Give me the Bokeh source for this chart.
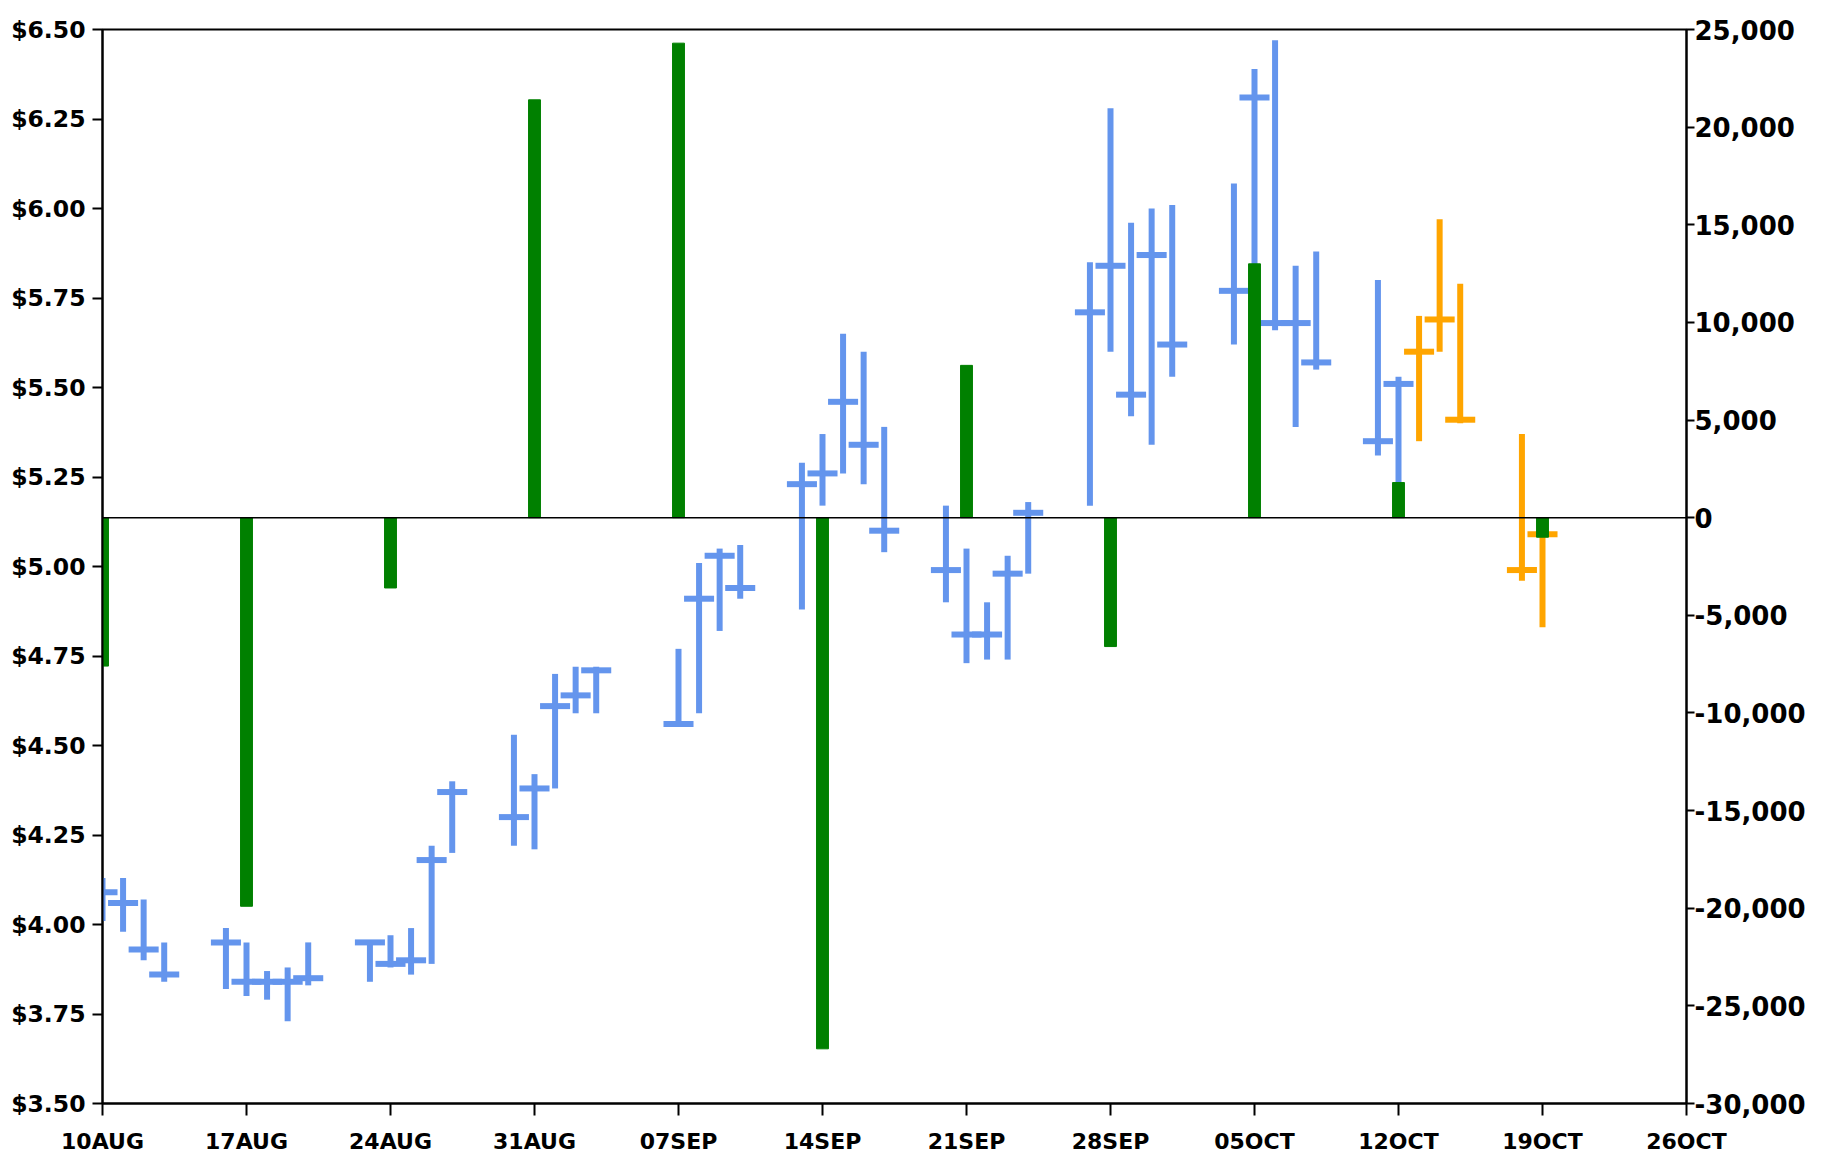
import pandas as pd
from bokeh.plotting import figure
from bokeh.models import (Range1d, LinearAxis, FixedTicker, PrintfTickFormatter,
                          NumeralTickFormatter, Span, ColumnDataSource)
from bokeh.embed import file_html
from bokeh.resources import INLINE

# ---------------- data ----------------
start_date = "2020-08-10"
tick_dates = ["2020-08-10", "2020-08-17", "2020-08-24", "2020-08-31", "2020-09-07",
              "2020-09-14", "2020-09-21", "2020-09-28", "2020-10-05", "2020-10-12",
              "2020-10-19", "2020-10-26"]
tick_labels = ["10AUG", "17AUG", "24AUG", "31AUG", "07SEP", "14SEP", "21SEP",
               "28SEP", "05OCT", "12OCT", "19OCT", "26OCT"]

bar_dates = ["2020-08-10", "2020-08-11", "2020-08-12", "2020-08-13",
             "2020-08-16", "2020-08-17", "2020-08-18", "2020-08-19", "2020-08-20",
             "2020-08-23", "2020-08-24", "2020-08-25", "2020-08-26", "2020-08-27",
             "2020-08-30", "2020-08-31", "2020-09-01", "2020-09-02", "2020-09-03",
             "2020-09-07", "2020-09-08", "2020-09-09", "2020-09-10",
             "2020-09-13", "2020-09-14", "2020-09-15", "2020-09-16", "2020-09-17",
             "2020-09-20", "2020-09-21", "2020-09-22", "2020-09-23", "2020-09-24",
             "2020-09-27", "2020-09-28", "2020-09-29", "2020-09-30", "2020-10-01",
             "2020-10-04", "2020-10-05", "2020-10-06", "2020-10-07", "2020-10-08",
             "2020-10-11", "2020-10-12",
             "2020-10-13", "2020-10-14", "2020-10-15", "2020-10-18", "2020-10-19"]
high = [4.13, 4.13, 4.07, 3.95,
        3.99, 3.95, 3.87, 3.88, 3.95,
        3.95, 3.97, 3.99, 4.22, 4.40,
        4.53, 4.42, 4.70, 4.72, 4.72,
        4.77, 5.01, 5.05, 5.06,
        5.29, 5.37, 5.65, 5.60, 5.39,
        5.17, 5.05, 4.90, 5.03, 5.18,
        5.85, 6.28, 5.96, 6.00, 6.01,
        6.07, 6.39, 6.47, 5.84, 5.88,
        5.80, 5.53,
        5.70, 5.97, 5.79, 5.37, 5.12]
low = [4.01, 3.98, 3.90, 3.84,
       3.82, 3.80, 3.79, 3.73, 3.83,
       3.84, 3.88, 3.86, 3.89, 4.20,
       4.22, 4.21, 4.38, 4.59, 4.59,
       4.56, 4.59, 4.82, 4.91,
       4.88, 5.17, 5.26, 5.23, 5.04,
       4.90, 4.73, 4.74, 4.74, 4.98,
       5.17, 5.60, 5.42, 5.34, 5.53,
       5.62, 5.70, 5.66, 5.39, 5.55,
       5.31, 5.22,
       5.35, 5.60, 5.40, 4.96, 4.83]
close = [4.09, 4.06, 3.93, 3.86,
         3.95, 3.84, 3.84, 3.84, 3.85,
         3.95, 3.89, 3.90, 4.18, 4.37,
         4.30, 4.38, 4.61, 4.64, 4.71,
         4.56, 4.91, 5.03, 4.94,
         5.23, 5.26, 5.46, 5.34, 5.10,
         4.99, 4.81, 4.81, 4.98, 5.15,
         5.71, 5.84, 5.48, 5.87, 5.62,
         5.77, 6.31, 5.68, 5.68, 5.57,
         5.35, 5.51,
         5.60, 5.69, 5.41, 4.99, 5.09]
kind = ["actual"] * 45 + ["forecast"] * 5

volume_dates = tick_dates[:11]
net_volume = [-7600, -19900, -3600, 21400, 24300, -27200, 7800, -6600, 13000, 1800, -1000]

price_ticks = [3.50, 3.75, 4.00, 4.25, 4.50, 4.75, 5.00, 5.25, 5.50, 5.75, 6.00, 6.25, 6.50]
volume_ticks = [-30000, -25000, -20000, -15000, -10000, -5000, 0, 5000, 10000, 15000, 20000, 25000]

# ---------------- styling ----------------
BLUE = "#6495ED"
ORANGE = "#FFA500"
GREEN = "#008000"
FONT = "DejaVu Sans"

start = pd.Timestamp(start_date)
def day_offset(ds):
    return [(pd.Timestamp(d) - start).days for d in ds]

bx = day_offset(bar_dates)
half = 0.73
colors = [BLUE if k == "actual" else ORANGE for k in kind]
src = ColumnDataSource(dict(x=bx, x0=[v - half for v in bx], x1=[v + half for v in bx],
                            high=high, low=low, close=close, color=colors))
vsrc = ColumnDataSource(dict(x=day_offset(volume_dates), top=net_volume,
                             bottom=[0] * len(net_volume)))

tx = day_offset(tick_dates)

W, H = 1814, 1158
p = figure(width=W, height=H, output_backend="svg", toolbar_location=None,
           x_range=Range1d(tx[0], tx[-1]), y_range=Range1d(3.5, 6.5),
           min_border_left=102, min_border_right=128, min_border_top=29,
           min_border_bottom=55)
p.extra_y_ranges = {"vol": Range1d(-30000, 25000)}
p.grid.visible = False
p.outline_line_color = "black"
p.outline_line_width = 2
p.background_fill_color = "white"
p.border_fill_color = "white"

# price bars
p.segment(x0="x", y0="low", x1="x", y1="high", source=src, line_color="color",
          line_width=6, line_cap="butt")
p.segment(x0="x0", y0="close", x1="x1", y1="close", source=src, line_color="color",
          line_width=6, line_cap="butt")

# volume bars
p.vbar(x="x", top="top", bottom="bottom", width=0.58, source=vsrc, y_range_name="vol",
       fill_color=GREEN, line_color=GREEN)

p.add_layout(Span(location=0, dimension="width", y_range_name="vol",
                  line_color="black", line_width=1.5))

def style_axis(ax, size):
    ax.axis_line_color = "black"
    ax.axis_line_width = 2
    ax.major_tick_line_color = "black"
    ax.major_tick_line_width = 2
    ax.minor_tick_line_color = None
    ax.major_tick_in = 0
    ax.major_label_text_font = FONT
    ax.major_label_text_font_size = size
    ax.major_label_text_font_style = "bold"
    ax.major_label_text_color = "black"

# x axis
xa = p.xaxis[0]
style_axis(xa, "22px")
xa.ticker = FixedTicker(ticks=tx)
xa.major_label_overrides = {t: lab for t, lab in zip(tx, tick_labels)}
xa.major_tick_out = 12
xa.major_label_standoff = 13

# left axis
ya = p.yaxis[0]
style_axis(ya, "23.5px")
ya.ticker = FixedTicker(ticks=price_ticks)
ya.formatter = PrintfTickFormatter(format="$%.2f")
ya.major_tick_out = 10
ya.major_label_standoff = 7

# right axis
ra = LinearAxis(y_range_name="vol")
style_axis(ra, "26px")
ra.ticker = FixedTicker(ticks=volume_ticks)
ra.formatter = NumeralTickFormatter(format="0,0")
ra.major_tick_out = 8
ra.major_label_standoff = 0
p.add_layout(ra, "right")

open("out.html", "w").write(file_html(p, INLINE))
